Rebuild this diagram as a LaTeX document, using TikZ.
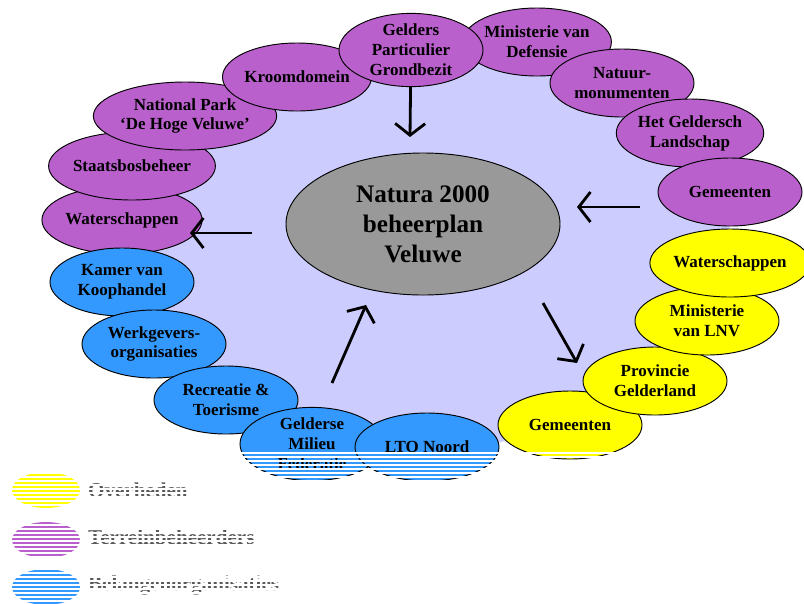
\documentclass[tikz,border=0pt]{standalone}
\usepackage{fontspec}
\setmainfont{Liberation Serif}
\usetikzlibrary{shapes.geometric,arrows.meta}
\definecolor{paars}{RGB}{186,96,204}
\definecolor{blauw}{RGB}{51,153,255}
\definecolor{geel}{RGB}{255,255,0}
\definecolor{lila}{RGB}{204,204,255}
\definecolor{grijs}{RGB}{153,153,153}
\begin{document}
\begin{tikzpicture}[x=0.03cm,y=-0.03cm,
    partij/.style={ellipse,draw=black,line width=.8pt,minimum width=4.32cm,minimum height=2.04cm,
      inner sep=0pt,align=center,font=\fontsize{14.5}{17}\selectfont\bfseries},
    terrein/.style={partij,fill=paars},
    belang/.style={partij,fill=blauw},
    overheid/.style={partij,fill=geel},
    pijl/.style={line width=2.4pt,-{Straight Barb[length=3.5mm,width=9mm]}},
    legenda/.style={ellipse,minimum width=2.04cm,minimum height=1.08cm,inner sep=0pt},
    uitleg/.style={anchor=west,text=black!65,font=\fontsize{18}{21}\selectfont\bfseries}]
  \useasboundingbox (0,0) rectangle (804,603);
  % achtergrond
  \fill[lila] (426,248) ellipse [x radius=305, y radius=200];
  \node[ellipse,draw=black,line width=.8pt,fill=grijs,minimum width=8.22cm,minimum height=4.26cm,
    align=center,font=\fontsize{21.5}{25.5}\selectfont\bfseries] (natura) at (423,224)
    {Natura 2000\\beheerplan\\Veluwe};
  % terreinbeheerders
  \node[terrein] (waterschappenT) at (122,220) {Waterschappen};
  \node[terrein] (staatsbos) at (132,166) {Staatsbosbeheer};
  \node[terrein] (hogeveluwe) at (185,116) {National Park\\`De Hoge Veluwe'};
  \node[terrein] (kroondomein) at (297,77) {Kroomdomein};
  \node[terrein] (defensie) at (537,42) {Ministerie van\\Defensie};
  \node[terrein] (grondbezit) at (411,50) {Gelders\\Particulier\\Grondbezit};
  \node[terrein] (natuurmon) at (622,83) {Natuur-\\monumenten};
  \node[terrein] (landschap) at (690,133) {Het Geldersch\\Landschap};
  \node[terrein] (gemeentenT) at (730,192) {Gemeenten};
  % belangenorganisaties
  \node[belang] (kvk) at (122,282) {Kamer van\\Koophandel};
  \node[belang] (werkgevers) at (154,344) {Werkgevers-\\organisaties};
  \node[belang] (recreatie) at (226,400) {Recreatie \&\\Toerisme};
  \node[belang] (milieu) at (312,444) {Gelderse\\Milieu\\Federatie};
  \node[belang] (lto) at (427,447) {LTO Noord};
  % overheden
  \node[overheid] (gemeentenO) at (570,425) {Gemeenten};
  \node[overheid] (provincie) at (655,381) {Provincie\\Gelderland};
  \node[overheid] (lnv) at (707,321) {Ministerie\\van LNV};
  \node[overheid] (waterschappenO) at (730,263) {Waterschappen};
  % pijlen
  \coordinate (pijlA) at (410,137);
  \coordinate (pijlB1) at (640,207);
  \coordinate (pijlB2) at (577,207);
  \coordinate (pijlC1) at (543,303);
  \coordinate (pijlC2) at (577,363);
  \coordinate (pijlD1) at (332,383);
  \coordinate (pijlD2) at (366,305);
  \coordinate (pijlE1) at (252,233);
  \coordinate (pijlE2) at (190,233);
  \draw[pijl] (grondbezit) -- (pijlA);
  \draw[pijl] (pijlB1) -- (pijlB2);
  \draw[pijl] (pijlC1) -- (pijlC2);
  \draw[pijl] (pijlD1) -- (pijlD2);
  \draw[pijl] (pijlE1) -- (pijlE2);
  % legenda
  \node[legenda,fill=geel] (legO) at (46,490) {};
  \node[legenda,fill=paars] (legT) at (46,540) {};
  \node[legenda,fill=blauw] (legB) at (46,587) {};
  \node[uitleg] at (84,490) {Overheden};
  \node[uitleg] at (84,537) {Terreinbeheerders};
  \node[uitleg] at (84,585) {Belangenorganisaties};
  % strepen
  \foreach \y in {452,456,...,600}
    \fill[white] (0,\y) rectangle (804,\y+2);
\end{tikzpicture}
\end{document}
